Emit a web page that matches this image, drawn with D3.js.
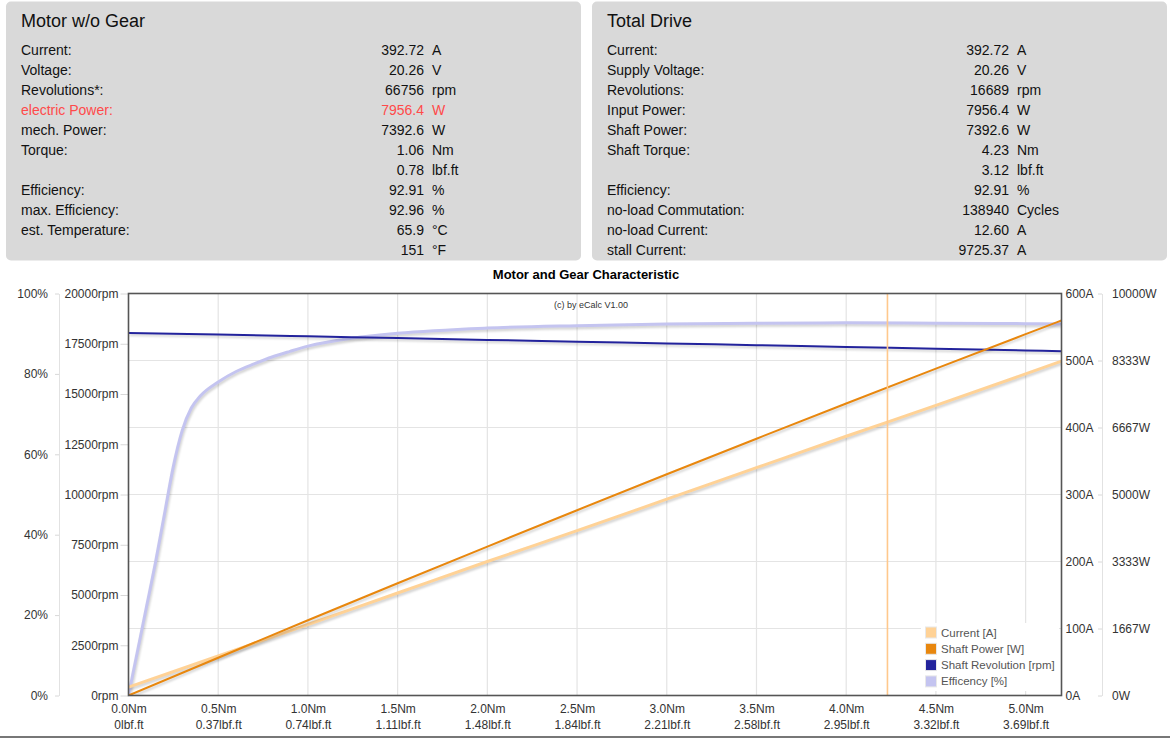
<!DOCTYPE html>
<html>
<head>
<meta charset="utf-8">
<script src="https://cdn.jsdelivr.net/npm/d3@7"></script>
<style>
  html, body { margin: 0; padding: 0; background: #fff; }
  svg { display: block; font-family: "Liberation Sans", Arial, sans-serif; }
</style>
</head>
<body>
<svg id="chart" width="1170" height="739"></svg>
<script>
// ---------------- DATA ----------------
const motorTitle = "Motor w/o Gear";
const motorLabels = ["Current:", "Voltage:", "Revolutions*:", "electric Power:", "mech. Power:", "Torque:", "", "Efficiency:", "max. Efficiency:", "est. Temperature:", ""];
const motorValues = ["392.72", "20.26", "66756", "7956.4", "7392.6", "1.06", "0.78", "92.91", "92.96", "65.9", "151"];
const motorUnits  = ["A", "V", "rpm", "W", "W", "Nm", "lbf.ft", "%", "%", "°C", "°F"];
const motorHighlightRow = 3;

const driveTitle = "Total Drive";
const driveLabels = ["Current:", "Supply Voltage:", "Revolutions:", "Input Power:", "Shaft Power:", "Shaft Torque:", "", "Efficiency:", "no-load Commutation:", "no-load Current:", "stall Current:"];
const driveValues = ["392.72", "20.26", "16689", "7956.4", "7392.6", "4.23", "3.12", "92.91", "138940", "12.60", "9725.37"];
const driveUnits  = ["A", "V", "rpm", "W", "W", "Nm", "lbf.ft", "%", "Cycles", "A", "A"];

const chartTitle = "Motor and Gear Characteristic";
const copyright = "(c) by eCalc  V1.00";

const xTicksNm = [0, 0.5, 1.0, 1.5, 2.0, 2.5, 3.0, 3.5, 4.0, 4.5, 5.0];
const xTickLbf = ["0lbf.ft", "0.37lbf.ft", "0.74lbf.ft", "1.11lbf.ft", "1.48lbf.ft", "1.84lbf.ft", "2.21lbf.ft", "2.58lbf.ft", "2.95lbf.ft", "3.32lbf.ft", "3.69lbf.ft"];
const xMaxNm = 5.2;
const operatingTorque = 4.23;

const pctTicks = [0, 20, 40, 60, 80, 100];
const rpmTicks = [0, 2500, 5000, 7500, 10000, 12500, 15000, 17500, 20000];
const ampTicks = [0, 100, 200, 300, 400, 500, 600];
const wattTickLabels = ["0W", "1667W", "3333W", "5000W", "6667W", "8333W", "10000W"];
const wattMax = 10000;

const torqueNm      = [0, 0.5, 1.0, 1.5, 2.0, 2.5, 3.0, 3.5, 4.0, 4.5, 5.0, 5.2];
const currentA      = [12.6, 59, 106, 153, 200, 246, 293, 340, 387, 433, 480, 499];
const shaftPowerW   = [0, 940, 1871, 2793, 3705, 4609, 5503, 6388, 7264, 8131, 8989, 9329];
const revolutionRpm = [18040, 17955, 17867, 17780, 17692, 17605, 17517, 17430, 17342, 17255, 17167, 17130];

const effTorqueNm = [0, 0.05, 0.1, 0.15, 0.2, 0.25, 0.3, 0.35, 0.4, 0.5, 0.6, 0.7, 0.8, 0.9, 1.0, 1.25, 1.5, 2.0, 2.5, 3.0, 3.5, 4.0, 4.5, 5.0, 5.2];
const efficiencyPct = [0, 11, 22, 33, 45, 57, 66, 71.5, 74.5, 78, 80.6, 82.5, 84.2, 85.6, 86.9, 88.9, 90.1, 91.4, 92.0, 92.4, 92.6, 92.7, 92.6, 92.5, 92.4];

const legendNames = ["Current [A]", "Shaft Power [W]", "Shaft Revolution [rpm]", "Efficency [%]"];
const colors = { current: "#ffd296", power: "#e8870e", rpm: "#23239c", eff: "#c4c4f0", marker: "#ffc88c" };

// ---------------- LAYOUT ----------------
const svg = d3.select("#chart");
const plot = { left: 128.5, right: 1061.5, top: 293.5, bottom: 695.5 };

// ---------------- PANELS ----------------
function drawPanel(x0, x1, title, labels, values, units, valueRight, unitLeft, highlight) {
  const g = svg.append("g");
  g.append("rect").attr("x", x0).attr("y", 1.5).attr("width", x1 - x0).attr("height", 259)
    .attr("rx", 5).attr("fill", "#d9d9d9");
  g.append("text").attr("x", x0 + 15).attr("y", 26.5).attr("font-size", 18).attr("fill", "#111").text(title);
  labels.forEach((d, i) => {
    const y = 55 + i * 20;
    const col = i === highlight ? "#ff4a4a" : "#111";
    g.append("text").attr("x", x0 + 15).attr("y", y).attr("font-size", 14).attr("fill", col).text(d);
    g.append("text").attr("x", valueRight).attr("y", y).attr("font-size", 14).attr("fill", col)
      .attr("text-anchor", "end").text(values[i]);
    g.append("text").attr("x", unitLeft).attr("y", y).attr("font-size", 14).attr("fill", col).text(units[i]);
  });
}
drawPanel(6, 581, motorTitle, motorLabels, motorValues, motorUnits, 424, 432, motorHighlightRow);
drawPanel(592, 1167, driveTitle, driveLabels, driveValues, driveUnits, 1009, 1017, -1);

// ---------------- SCALES ----------------
const x = d3.scaleLinear().domain([0, xMaxNm]).range([plot.left, plot.right]);
const yPct = d3.scaleLinear().domain([0, 100]).range([plot.bottom, plot.top]);
const yRpm = d3.scaleLinear().domain([0, 20000]).range([plot.bottom, plot.top]);
const yAmp = d3.scaleLinear().domain([0, 600]).range([plot.bottom, plot.top]);
const yW   = d3.scaleLinear().domain([0, wattMax]).range([plot.bottom, plot.top]);

// shadow filter
const defs = svg.append("defs");
const f = defs.append("filter").attr("id", "shadow").attr("x", "-5%").attr("y", "-5%").attr("width", "110%").attr("height", "110%");
f.append("feGaussianBlur").attr("stdDeviation", 1);

// title
svg.append("text").attr("x", 586).attr("y", 279).attr("text-anchor", "middle")
  .attr("font-size", 13).attr("font-weight", "bold").attr("fill", "#000").text(chartTitle);

// grid
const grid = svg.append("g");
grid.selectAll("line.v").data(xTicksNm.slice(1)).join("line")
  .attr("x1", d => x(d)).attr("x2", d => x(d)).attr("y1", plot.top).attr("y2", plot.bottom)
  .attr("stroke", "#e4e4e4").attr("stroke-width", 1.2);
grid.selectAll("line.h").data(ampTicks.slice(1, -1)).join("line")
  .attr("x1", plot.left).attr("x2", plot.right).attr("y1", d => yAmp(d)).attr("y2", d => yAmp(d))
  .attr("stroke", "#e4e4e4").attr("stroke-width", 1.2);

svg.append("text").attr("x", 591).attr("y", 308).attr("text-anchor", "middle")
  .attr("font-size", 9).attr("fill", "#333").text(copyright);

// ---------------- AXES ----------------
function styleAxis(g) {
  g.selectAll("text").attr("font-size", 12).attr("fill", "#333").attr("font-family", "Liberation Sans, Arial, sans-serif");
  g.selectAll("line").attr("stroke", "#d8d8d8");
  g.select(".domain").attr("stroke", "#e2e2e2");
}
const axPct = svg.append("g").attr("transform", "translate(59,0)")
  .call(d3.axisLeft(yPct).tickValues(pctTicks).tickFormat(d => d + "%").tickSize(4).tickSizeOuter(0).tickPadding(7));
styleAxis(axPct);
const axRpm = svg.append("g").attr("transform", `translate(${plot.left},0)`)
  .call(d3.axisLeft(yRpm).tickValues(rpmTicks).tickFormat(d => d + "rpm").tickSize(8).tickSizeOuter(0).tickPadding(2));
styleAxis(axRpm);
axRpm.select(".domain").remove();
const axAmp = svg.append("g").attr("transform", `translate(${plot.right},0)`)
  .call(d3.axisRight(yAmp).tickValues(ampTicks).tickFormat(d => d + "A").tickSize(0).tickSizeOuter(0).tickPadding(4));
styleAxis(axAmp);
axAmp.select(".domain").remove();
const wattVals = wattTickLabels.map((d, i) => i * wattMax / (wattTickLabels.length - 1));
const axW = svg.append("g").attr("transform", "translate(1102,0)")
  .call(d3.axisRight(yW).tickValues(wattVals).tickFormat((d, i) => wattTickLabels[i]).tickSize(0).tickSizeOuter(0).tickPadding(10));
styleAxis(axW);
axW.selectAll(".tick").append("line").attr("x1", -4).attr("x2", 0).attr("stroke", "#d8d8d8");
const axX = svg.append("g").attr("transform", `translate(0,${plot.bottom})`)
  .call(d3.axisBottom(x).tickValues(xTicksNm).tickFormat(d => d.toFixed(1) + "Nm").tickSize(0).tickPadding(9));
styleAxis(axX);
axX.select(".domain").remove();
axX.selectAll(".tick").append("text").attr("y", 33).attr("fill", "#333").attr("font-size", 12)
  .attr("font-family", "Liberation Sans, Arial, sans-serif").attr("text-anchor", "middle")
  .text((d, i) => xTickLbf[i]);

// ---------------- SERIES ----------------
const lineMain = (yScale, vals) => d3.line().x((d, i) => x(torqueNm[i])).y((d, i) => yScale(vals[i])).curve(d3.curveMonotoneX)(vals);
const effPath = d3.line().x((d, i) => x(effTorqueNm[i])).y(d => yPct(d)).curve(d3.curveMonotoneX)(efficiencyPct);

const series = [
  { path: effPath, color: colors.eff, width: 3 },
  { path: lineMain(yAmp, currentA), color: colors.current, width: 3 },
  { path: lineMain(yRpm, revolutionRpm), color: colors.rpm, width: 2 },
  { path: lineMain(yW, shaftPowerW), color: colors.power, width: 2 }
];
const lines = svg.append("g");
lines.append("clipPath").attr("id", "clip").append("rect")
  .attr("x", plot.left).attr("y", plot.top).attr("width", plot.right - plot.left).attr("height", plot.bottom - plot.top);
const inner = lines.append("g").attr("clip-path", "url(#clip)");
series.forEach(s => {
  inner.append("path").attr("d", s.path).attr("fill", "none").attr("stroke", "rgba(0,0,0,0.18)")
    .attr("stroke-width", s.width).attr("transform", "translate(1,2)").attr("filter", "url(#shadow)");
  inner.append("path").attr("d", s.path).attr("fill", "none").attr("stroke", s.color)
    .attr("stroke-width", s.width).attr("stroke-linejoin", "round");
});

// operating point marker
svg.append("line").attr("x1", x(operatingTorque)).attr("x2", x(operatingTorque))
  .attr("y1", plot.top).attr("y2", plot.bottom).attr("stroke", colors.marker).attr("stroke-width", 1.6);

// frame
svg.append("rect").attr("x", plot.left).attr("y", plot.top).attr("width", plot.right - plot.left)
  .attr("height", plot.bottom - plot.top).attr("fill", "none").attr("stroke", "#555").attr("stroke-width", 1.6);

// ---------------- LEGEND ----------------
const legColors = [colors.current, colors.power, colors.rpm, colors.eff];
const leg = svg.append("g");
leg.append("rect").attr("x", 921).attr("y", 623).attr("width", 138).attr("height", 68).attr("fill", "#fff");
legendNames.forEach((n, i) => {
  const cy = 632.5 + i * 16.3;
  leg.append("rect").attr("x", 925.5).attr("y", cy - 5.5).attr("width", 11).attr("height", 11)
    .attr("fill", legColors[i]).attr("stroke", "#e8e8e8").attr("stroke-width", 1);
  leg.append("text").attr("x", 941).attr("y", cy + 4).attr("font-size", 11.5).attr("fill", "#555").text(n);
});

// bottom rule
svg.append("line").attr("x1", 0).attr("x2", 1170).attr("y1", 737).attr("y2", 737).attr("stroke", "#777").attr("stroke-width", 2);
</script>
</body>
</html>
